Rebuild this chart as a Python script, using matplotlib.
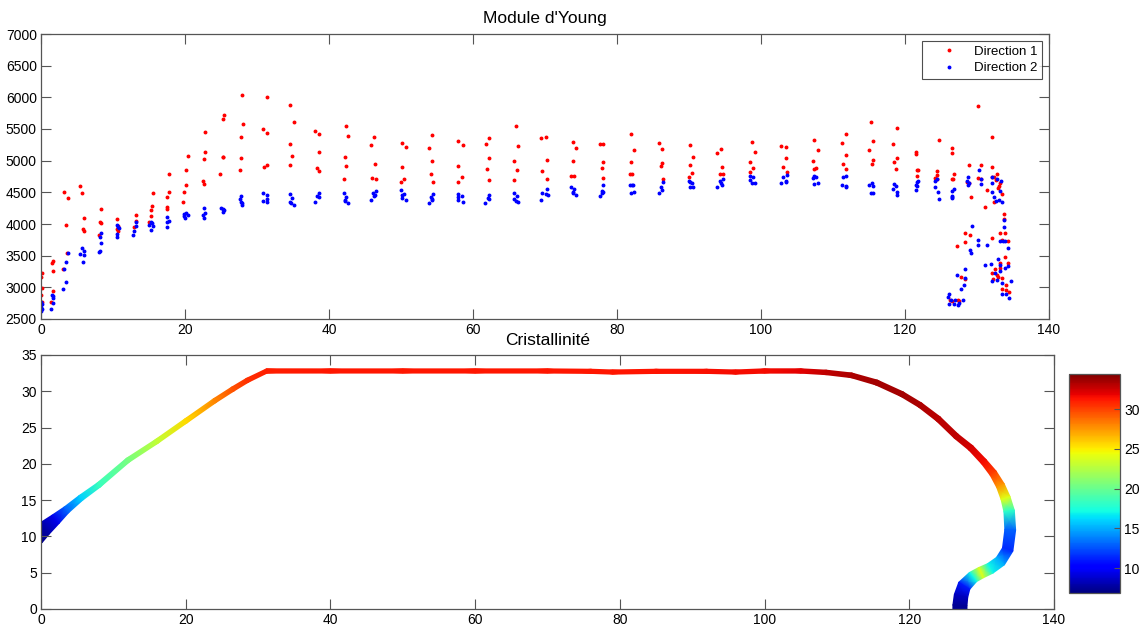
import numpy as np
import matplotlib
matplotlib.use("Agg")
import matplotlib.pyplot as plt

plt.rcParams['font.family'] = ['Liberation Sans', 'DejaVu Sans']

# ---------------- Data: Module d'Young ----------------
dir1 = [  # (x, E) Direction 1 (red)
    (0.1, 3220), (0.0, 3160), (0.1, 2985), (0.05, 2880), (0.1, 2775),
    (1.48, 3390), (1.62, 3415), (1.62, 3255), (1.62, 2940), (1.39, 2765),
    (3.24, 4505), (3.8, 4405), (3.43, 3985), (3.62, 3535), (3.06, 3295),
    (5.38, 4600), (5.65, 4485), (5.93, 4095), (5.79, 3915), (5.93, 3890),
    (8.34, 4240), (8.25, 4025), (8.34, 4010), (8.06, 3830),
    (10.52, 4085), (10.66, 3975), (10.52, 3920), (10.75, 3890),
    (13.21, 4140), (13.21, 4045), (12.98, 3960),
    (15.52, 4495), (15.39, 4285), (15.29, 4220), (15.29, 4130), (15.06, 4025),
    (17.8, 4785), (17.8, 4500), (17.56, 4430), (17.56, 4275), (17.56, 4235),
    (20.39, 5070), (20.11, 4855), (20.16, 4610), (19.93, 4510), (19.79, 4355),
    (22.8, 5445), (22.71, 5130), (22.57, 5020), (22.48, 4685), (22.57, 4635),
    (25.35, 5715), (25.21, 5655), (25.21, 5065), (25.3, 5055), (24.89, 4785),
    (27.95, 6035), (28.04, 5580), (27.81, 5370), (27.72, 5045), (27.58, 4845),
    (31.33, 6000), (30.77, 5505), (31.33, 5435), (31.33, 4930), (30.91, 4905),
    (34.62, 5875), (35.08, 5605), (34.62, 5265), (34.8, 5070), (34.53, 4930),
    (38.1, 5470), (38.56, 5420), (38.56, 5135), (38.28, 4885), (38.65, 4835),
    (42.31, 5555), (42.64, 5390), (42.22, 5055), (42.36, 4910), (42.03, 4715),
    (46.3, 5370), (45.88, 5240), (46.39, 4955), (46.02, 4725), (46.48, 4715),
    (50.1, 5285), (50.66, 5210), (50.1, 4905), (50.47, 4705), (49.96, 4670),
    (54.27, 5400), (53.94, 5205), (54.27, 5000), (54.13, 4795), (54.46, 4660),
    (57.98, 5310), (58.63, 5240), (57.98, 4920), (58.44, 4745), (57.98, 4660),
    (62.19, 5355), (61.78, 5265), (62.19, 5035), (61.96, 4875), (62.29, 4700),
    (65.95, 5540), (66.27, 5230), (65.67, 5000), (66.09, 4855), (65.67, 4700),
    (70.07, 5375), (69.42, 5360), (70.26, 5005), (69.52, 4840), (70.21, 4715),
    (73.86, 5290), (74.28, 5195), (73.86, 5000), (73.68, 4760), (74.05, 4760),
    (77.66, 5265), (78.03, 5265), (78.03, 4975), (77.85, 4885), (78.08, 4725),
    (81.93, 5415), (82.34, 5175), (81.93, 4980), (81.74, 4790), (82.11, 4790),
    (85.82, 5280), (86.19, 5180), (86.19, 4965), (86.05, 4910), (86.38, 4715),
    (90.17, 5240), (90.55, 5060), (90.08, 4930), (90.36, 4805), (89.99, 4735),
    (94.44, 5185), (93.93, 5125), (94.53, 4900), (94.25, 4795), (94.72, 4795),
    (98.75, 5300), (99.21, 5135), (98.52, 4985), (98.94, 4880), (98.52, 4815),
    (102.78, 5230), (103.43, 5220), (103.52, 5035), (103.11, 4895), (103.66, 4825),
    (107.42, 5320), (107.93, 5165), (107.23, 5000), (107.65, 4880), (107.37, 4865),
    (111.82, 5420), (111.31, 5285), (111.86, 5095), (111.4, 4940), (111.86, 4875),
    (115.34, 5615), (115.52, 5310), (115.02, 5175), (115.52, 5010), (115.43, 4940),
    (118.86, 5510), (118.4, 5265), (118.86, 5045), (118.44, 4985), (118.77, 4865),
    (121.55, 5135), (121.55, 5110), (121.69, 4845), (121.87, 4845), (121.69, 4765),
    (124.66, 5320), (124.38, 4840), (124.47, 4775), (124.15, 4730), (124.47, 4710),
    (126.56, 5195), (126.56, 5115), (126.79, 4785), (126.56, 4710), (126.69, 4710),
    (127.25, 3645), (127.76, 3170), (128.32, 3135), (126.2, 2800), (126.5, 2790),
    (127.4, 2795), (127.5, 2780),
    (128.36, 3865), (129.01, 3830), (128.36, 3710),
    (128.83, 4930), (128.55, 4670), (128.83, 4650), (129.15, 4420),
    (130.17, 5865), (130.59, 4925), (130.08, 4720), (130.54, 4710),
    (131.42, 4540), (131.1, 4265),
    (132.07, 5370), (132.07, 4900), (132.12, 4745), (132.35, 4745), (132.81, 4785),
    (132.67, 4695), (133.23, 4655), (133.04, 4600), (132.9, 4565), (133.41, 4470),
    (132.35, 4345), (133.69, 4155), (133.69, 4085), (133.14, 3865), (133.92, 3860),
    (132.02, 3780), (133.51, 3745), (134.34, 3735), (133.92, 3485), (134.29, 3380),
    (133.14, 3380), (132.49, 3290), (133.18, 3300), (132.02, 3230), (132.81, 3190),
    (132.95, 3170), (133.51, 3140), (132.26, 3135), (134.06, 3035), (133.41, 2970),
    (134.02, 2960), (134.48, 2930),
]

dir2 = [  # (x, E) Direction 2 (blue)
    (0.0, 2775), (0.1, 2735), (0.05, 2695), (0.1, 2665), (0.0, 2630),
    (1.48, 2880), (1.62, 2865), (1.62, 2825), (1.62, 2745), (1.39, 2665),
    (3.8, 3545), (3.48, 3395), (3.24, 3285), (3.52, 3080), (3.06, 2970),
    (5.65, 3615), (5.93, 3580), (5.38, 3520), (5.93, 3510), (5.79, 3395),
    (8.34, 3855), (8.25, 3790), (8.34, 3700), (8.25, 3580), (8.06, 3565),
    (10.52, 3990), (10.75, 3960), (10.89, 3930), (10.52, 3835), (10.52, 3800),
    (13.21, 4025), (13.21, 3975), (12.98, 3895), (12.84, 3825),
    (15.29, 4030), (15.39, 4010), (15.06, 3980), (15.52, 3970), (15.29, 3905),
    (17.56, 4115), (17.8, 4055), (17.56, 4030), (17.56, 3960),
    (20.11, 4180), (19.93, 4155), (19.83, 4130), (20.39, 4140), (20.02, 4100),
    (22.57, 4260), (22.8, 4180), (22.48, 4140), (22.57, 4090),
    (24.98, 4245), (25.21, 4240), (25.35, 4220), (25.21, 4185),
    (27.72, 4435), (27.58, 4390), (27.81, 4345), (27.95, 4325), (27.95, 4295),
    (30.87, 4495), (31.33, 4465), (31.33, 4395), (30.77, 4360), (31.33, 4340),
    (34.53, 4470), (34.8, 4405), (34.62, 4355), (34.71, 4335), (35.08, 4305),
    (38.65, 4495), (38.33, 4440), (38.56, 4420), (38.1, 4340),
    (42.03, 4495), (42.36, 4430), (42.22, 4380), (42.27, 4365), (42.64, 4325),
    (46.48, 4515), (46.07, 4485), (46.39, 4460), (46.3, 4440), (45.88, 4375),
    (49.96, 4535), (50.47, 4475), (50.1, 4465), (50.1, 4405), (50.66, 4375),
    (54.46, 4475), (54.13, 4425), (54.27, 4395), (54.32, 4375), (53.94, 4335),
    (57.98, 4475), (58.44, 4435), (57.98, 4420), (57.98, 4380), (58.63, 4355),
    (62.29, 4465), (62.05, 4415), (62.29, 4400), (61.73, 4335),
    (65.67, 4490), (66.09, 4440), (65.76, 4395), (65.99, 4370), (66.27, 4340),
    (70.21, 4555), (69.56, 4485), (70.12, 4470), (70.35, 4460), (69.42, 4375),
    (73.68, 4580), (74.05, 4560), (73.86, 4510), (73.86, 4495), (74.33, 4465),
    (78.08, 4620), (77.85, 4520), (78.03, 4505), (77.94, 4490), (77.66, 4440),
    (81.83, 4620), (82.2, 4610), (82.02, 4610), (82.39, 4510), (81.93, 4495),
    (86.38, 4670), (86.14, 4580), (86.19, 4530), (85.82, 4495),
    (89.99, 4685), (90.17, 4660), (90.36, 4645), (90.17, 4580), (90.55, 4580),
    (94.67, 4715), (94.25, 4685), (94.39, 4640), (94.58, 4610), (93.88, 4590),
    (98.52, 4760), (98.94, 4735), (98.52, 4695), (98.75, 4640), (99.21, 4655),
    (103.66, 4780), (103.11, 4745), (103.43, 4680), (103.52, 4665), (102.78, 4640),
    (107.32, 4760), (107.65, 4735), (107.23, 4720), (107.93, 4645), (107.42, 4635),
    (111.86, 4755), (111.4, 4745), (111.31, 4615), (111.77, 4605), (111.86, 4580),
    (115.43, 4655), (115.02, 4610), (115.57, 4595), (115.34, 4490), (115.52, 4490),
    (118.44, 4625), (118.77, 4605), (118.4, 4545), (118.86, 4500), (118.91, 4460),
    (121.87, 4685), (121.69, 4660), (121.5, 4610), (121.6, 4600), (121.5, 4530),
    (124.38, 4705), (124.19, 4675), (124.19, 4590), (124.52, 4500), (124.7, 4390),
    (126.79, 4545), (126.56, 4520), (126.56, 4445), (126.56, 4430), (126.56, 4415),
    (127.25, 3200), (128.32, 3145), (128.36, 3295), (128.22, 3035), (127.76, 2970),
    (126.18, 2890), (125.95, 2855), (126.42, 2800), (126.93, 2795), (127.53, 2760),
    (126.18, 2735), (126.79, 2735), (127.34, 2725), (127.99, 2800),
    (128.69, 4735), (128.55, 4675), (128.83, 4640), (128.69, 4620), (129.24, 3970),
    (129.01, 3590), (129.15, 3535),
    (130.31, 4845), (130.59, 4715), (130.59, 4635), (130.17, 3755), (130.08, 3665),
    (131.42, 3675), (131.1, 3360),
    (132.02, 4735), (132.81, 4715), (133.27, 4685), (132.07, 4640), (133.23, 4525),
    (132.12, 4505), (132.39, 4420), (133.09, 4375), (132.67, 4360), (133.46, 4355),
    (133.69, 4070), (133.69, 3945), (133.18, 3730), (133.55, 3735), (133.92, 3735),
    (134.34, 3625), (132.9, 3440), (131.98, 3370), (133.18, 3360), (134.34, 3330),
    (133.92, 3310), (133.18, 3265), (132.49, 3230), (132.81, 3110), (134.76, 3100),
    (132.07, 3095), (133.51, 3075), (134.02, 2895), (133.41, 2895), (134.48, 2825),
]

# ---------------- Data: Cristallinité (band centreline) ----------------
band_x = [-2.0, -0.6, 0.5, 2.0, 3.5, 5.5, 8.0, 12.0, 16.0, 20.0, 24.0, 26.5, 28.5, 31.2,
          40.0, 50.0, 60.0, 70.0, 76.0, 79.0, 85.0, 92.0, 96.0, 100.0, 105.0,
          108.5, 112.0, 115.5, 119.0, 121.5, 124.0, 126.5, 128.5, 130.3, 131.6,
          132.6, 133.3, 133.8, 133.95, 133.6, 132.6, 131.2, 129.9, 128.8, 127.6,
          127.15, 127.0, 127.0]
band_y = [8.9, 10.1, 11.1, 12.35, 13.65, 15.3, 17.1, 20.5, 23.1, 25.9, 28.7, 30.3, 31.5, 32.8,
          32.8, 32.8, 32.8, 32.8, 32.75, 32.65, 32.75, 32.75, 32.65, 32.8, 32.8,
          32.6, 32.2, 31.2, 29.6, 28.1, 26.2, 23.8, 22.2, 20.3, 18.7,
          17.0, 15.3, 13.5, 10.9, 8.2, 6.6, 5.6, 5.0, 4.4, 3.2,
          1.8, 0.5, -0.6]
band_w = [2.6, 2.4, 2.0, 1.5, 1.0, 0.8, 0.7, 0.65, 0.62, 0.62, 0.62, 0.62, 0.6, 0.6,
          0.58, 0.58, 0.58, 0.58, 0.58, 0.58, 0.58, 0.58, 0.58, 0.6, 0.6,
          0.62, 0.65, 0.7, 0.7, 0.7, 0.75, 0.75, 0.8, 0.85, 1.0,
          1.15, 1.3, 1.45, 1.5, 1.5, 1.5, 1.5, 1.55, 1.6, 1.8,
          1.9, 1.95, 1.95]
band_c = [7.0, 7.2, 7.8, 9.5, 13.0, 16.0, 18.5, 20.5, 23.0, 25.5, 28.0, 29.5, 30.5, 31.0,
          31.2, 31.2, 31.2, 31.2, 31.2, 31.2, 31.3, 31.4, 31.5, 31.6, 32.0,
          32.8, 33.3, 33.5, 33.5, 33.3, 33.0, 32.8, 32.3, 31.5, 30.0,
          27.5, 24.0, 18.0, 13.0, 11.5, 15.0, 17.0, 24.0, 17.0, 11.0,
          8.5, 7.5, 7.3]
cbar_ticks = [10, 15, 20, 25, 30]
c_min, c_max = 6.9, 34.4

# ---------------- Figure ----------------
fig = plt.figure(figsize=(11.43, 6.3), dpi=100)
spine_col = '#555555'


def style(ax):
    ax.tick_params(direction='in', length=7, width=0.8, color=spine_col,
                   top=True, right=True, labelsize=10, pad=3)
    for s in ax.spines.values():
        s.set_color(spine_col)
        s.set_linewidth(0.9)


ax1 = fig.add_axes([41 / 1143, 1 - 319 / 630, (1049 - 41) / 1143, (319 - 34) / 630])
d1 = np.array(dir1)
d2 = np.array(dir2)
ax1.plot(d1[:, 0], d1[:, 1], '.', color='#ff0000', markersize=3.6, label='Direction 1')
ax1.plot(d2[:, 0], d2[:, 1], '.', color='#0000ff', markersize=3.6, label='Direction 2')
ax1.set_xlim(0, 140)
ax1.set_ylim(2500, 7000)
ax1.set_xticks(np.arange(0, 141, 20))
ax1.set_yticks(np.arange(2500, 7001, 500))
style(ax1)
ax1.set_title("Module d'Young", fontsize=12.5, pad=8)
leg = ax1.legend(loc='upper right', fontsize=9.5, frameon=True, fancybox=False,
                 edgecolor='#222222', borderaxespad=0.55, handlelength=3.4,
                 handletextpad=0.2, borderpad=0.35, labelspacing=0.3, markerscale=1.0)
leg.get_frame().set_linewidth(0.8)

ax2 = fig.add_axes([41 / 1143, 1 - 609 / 630, (1054 - 41) / 1143, (609 - 355) / 630])
bx = np.array(band_x)
by = np.array(band_y)
bw = np.array(band_w)
bc = np.array(band_c)
tx = np.gradient(bx)
ty = np.gradient(by)
tn = np.hypot(tx, ty)
nx, ny = -ty / tn, tx / tn
X = np.vstack([bx - nx * bw / 2, bx + nx * bw / 2])
Y = np.vstack([by - ny * bw / 2, by + ny * bw / 2])
C = np.vstack([bc, bc])
mesh = ax2.pcolormesh(X, Y, C, cmap='jet', vmin=c_min, vmax=c_max, shading='gouraud')
ax2.set_xlim(0, 140)
ax2.set_ylim(0, 35)
ax2.set_xticks(np.arange(0, 141, 20))
ax2.set_yticks(np.arange(0, 36, 5))
style(ax2)
ax2.set_title('Cristallinité', fontsize=12.5, pad=7)

cax = fig.add_axes([1069 / 1143, 1 - 593 / 630, 51 / 1143, 219 / 630])
cb = fig.colorbar(mesh, cax=cax)
cb.set_ticks(cbar_ticks)
cb.ax.tick_params(direction='in', length=4, width=0.8, color=spine_col, labelsize=10, pad=3)
cb.outline.set_edgecolor(spine_col)
cb.outline.set_linewidth(0.9)

fig.savefig('out.png', dpi=100)
